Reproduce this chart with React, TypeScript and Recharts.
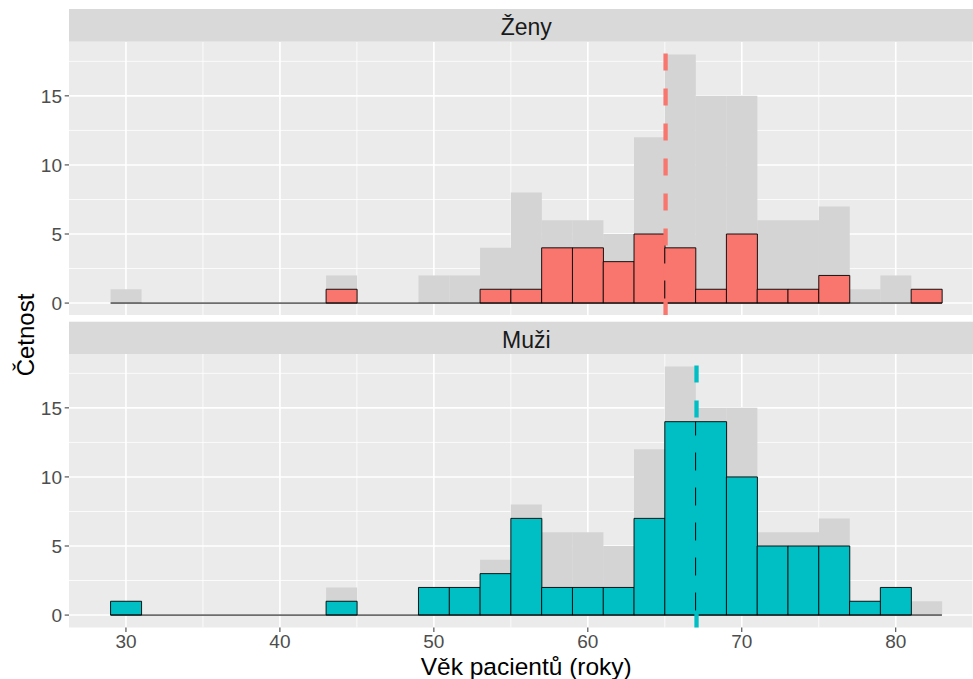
import React from "react";
import {
  ComposedChart,
  Bar,
  XAxis,
  YAxis,
  CartesianGrid,
  ReferenceLine,
} from "recharts";

// Bin centres (bin width 2, edges 29..83)
const binCenters = [30, 32, 34, 36, 38, 40, 42, 44, 46, 48, 50, 52, 54, 56, 58, 60, 62, 64, 66, 68, 70, 72, 74, 76, 78, 80, 82];
const zenyCounts = [0, 0, 0, 0, 0, 0, 0, 1, 0, 0, 0, 0, 1, 1, 4, 4, 3, 5, 4, 1, 5, 1, 1, 2, 0, 0, 1];
const muziCounts = [1, 0, 0, 0, 0, 0, 0, 1, 0, 0, 2, 2, 3, 7, 2, 2, 2, 7, 14, 14, 10, 5, 5, 5, 1, 2, 0];
const totalCounts = [1, 0, 0, 0, 0, 0, 0, 2, 0, 0, 2, 2, 4, 8, 6, 6, 5, 12, 18, 15, 15, 6, 6, 7, 1, 2, 1];
const binRange = [29, 83];

const meanZeny = 65.05;
const meanMuzi = 67.06;

const xTicks = [30, 40, 50, 60, 70, 80];
const xMinor = [35, 45, 55, 65, 75, 85];
const yTicks = [0, 5, 10, 15];
const yMinor = [2.5, 7.5, 12.5, 17.5];
const xDomain = [26.3, 85.7];
const yDomain = [-0.9, 18.9];

const panelLabels = ["Ženy", "Muži"];
const xTitle = "Věk pacientů (roky)";
const yTitle = "Četnost";

const data = binCenters.map((x, i) => ({
  x,
  zeny: zenyCounts[i],
  muzi: muziCounts[i],
  total: totalCounts[i],
}));

const FONT = "'Liberation Sans', Arial, sans-serif";
const CHART_W = 990;
const PLOT_LEFT = 69;
const PLOT_RIGHT = 983.5;
const PLOT_H = 273.5;

function Panel({ dataKey, color, mean, showX }: { dataKey: string; color: string; mean: number; showX: boolean }) {
  const xAxisH = showX ? 40 : 0;
  return (
    <ComposedChart
      width={CHART_W}
      height={PLOT_H + xAxisH}
      data={data}
      margin={{ top: 0, right: CHART_W - PLOT_RIGHT, bottom: 0, left: 0 }}
      barCategoryGap={0}
      barGap={0}
    >
      <CartesianGrid
        fill="#EBEBEB"
        stroke="#FFFFFF"
        strokeWidth={0.8}
        horizontalValues={yMinor}
        verticalValues={xMinor}
        syncWithTicks={false}
      />
      <CartesianGrid
        fill="none"
        stroke="#FFFFFF"
        strokeWidth={1.6}
        horizontalValues={yTicks}
        verticalValues={xTicks}
        syncWithTicks={false}
      />
      <XAxis
        xAxisId={0}
        dataKey="x"
        type="number"
        domain={xDomain}
        ticks={xTicks}
        allowDataOverflow
        hide={!showX}
        height={xAxisH}
        axisLine={false}
        tickSize={4.5}
        tickMargin={3}
        tickLine={{ stroke: "#333333", strokeWidth: 1 }}
        tick={{ fill: "#4D4D4D", fontSize: 19, fontFamily: FONT }}
        interval={0}
      />
      <XAxis xAxisId="bg" dataKey="x" type="number" domain={xDomain} allowDataOverflow hide />
      <YAxis
        type="number"
        domain={yDomain}
        ticks={yTicks}
        allowDataOverflow
        width={PLOT_LEFT}
        axisLine={false}
        tickSize={4.3}
        tickMargin={2.7}
        tickLine={{ stroke: "#333333", strokeWidth: 1 }}
        tick={{ fill: "#4D4D4D", fontSize: 19, fontFamily: FONT }}
        interval={0}
      />
      <Bar xAxisId="bg" dataKey="total" fill="#D4D4D4" isAnimationActive={false} />
      <ReferenceLine
        segment={[{ x: binRange[0], y: 0 }, { x: binRange[1], y: 0 }]}
        stroke="#000000"
        strokeWidth={1}
      />
      <Bar xAxisId={0} dataKey={dataKey} fill={color} stroke="#000000" strokeWidth={0.9} isAnimationActive={false} />
      <ReferenceLine x={mean} stroke={color} strokeWidth={4.3} strokeDasharray="17 18" />
    </ComposedChart>
  );
}

export default function App() {
  const stripW = PLOT_RIGHT - PLOT_LEFT;
  const cx = (PLOT_LEFT + PLOT_RIGHT) / 2;
  return (
    <div
      style={{
        position: "absolute",
        left: 0,
        top: 0,
        width: 973,
        height: 679,
        overflow: "hidden",
        background: "#FFFFFF",
        fontFamily: FONT,
      }}
    >
      <svg width={973} height={679} style={{ position: "absolute", left: 0, top: 0 }}>
        <rect x={PLOT_LEFT} y={9} width={stripW} height={32.7} fill="#D9D9D9" />
        <text x={cx} y={34.8} textAnchor="middle" fontSize={23} fill="#1A1A1A" fontFamily={FONT}>
          {panelLabels[0]}
        </text>
        <rect x={PLOT_LEFT} y={321.7} width={stripW} height={32.7} fill="#D9D9D9" />
        <text x={cx} y={348.3} textAnchor="middle" fontSize={23} fill="#1A1A1A" fontFamily={FONT}>
          {panelLabels[1]}
        </text>
        <text x={cx} y={675} textAnchor="middle" fontSize={24.5} fill="#000000" fontFamily={FONT}>
          {xTitle}
        </text>
        <text
          x={0}
          y={0}
          transform="translate(33.5,335) rotate(-90)"
          textAnchor="middle"
          fontSize={24}
          fill="#000000"
          fontFamily={FONT}
        >
          {yTitle}
        </text>
      </svg>
      <div style={{ position: "absolute", left: 0, top: 41.7 }}>
        <Panel dataKey="zeny" color="#F8766D" mean={meanZeny} showX={false} />
      </div>
      <div style={{ position: "absolute", left: 0, top: 354.4 }}>
        <Panel dataKey="muzi" color="#00BFC4" mean={meanMuzi} showX={true} />
      </div>
    </div>
  );
}
